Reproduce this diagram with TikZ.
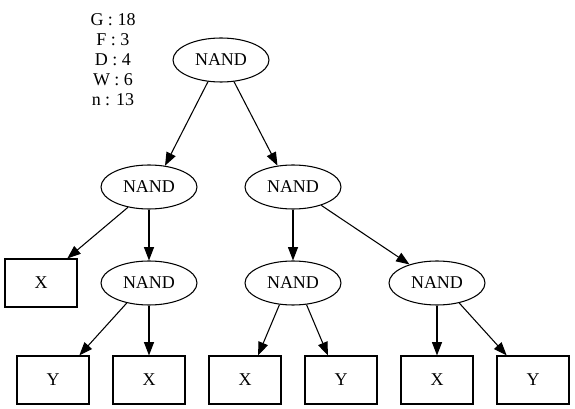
\documentclass[tikz,border=0pt]{standalone}
\usepackage{fontspec}
\setmainfont{Liberation Serif}
\usetikzlibrary{shapes.geometric,arrows.meta}
\begin{document}
\begin{tikzpicture}[x=0.75pt,y=-0.75pt,
  gate/.style={draw,ellipse,line width=0.8pt,minimum width=72pt,minimum height=33pt,inner sep=0pt,font=\fontsize{13.5}{15}\selectfont},
  leaf/.style={draw,rectangle,line width=0.8pt,minimum width=54pt,minimum height=36pt,inner sep=0pt,font=\fontsize{13.5}{15}\selectfont},
  edge/.style={line width=0.8pt,-{Triangle[length=10pt,width=7.5pt]}},
  info/.style={align=center,inner sep=0pt,font=\fontsize{13.5}{15}\selectfont}]
\useasboundingbox (0,0) rectangle (575,409);
\node[info] (stats) at (113,60) {G : 18\\F : 3\\D : 4\\W : 6\\n : 13};
\node[gate] (root) at (221,60) {NAND};
\node[gate] (l) at (149,187) {NAND};
\node[gate] (r) at (293,187) {NAND};
\node[leaf] (x1) at (41,283) {X};
\node[gate] (ln) at (149,283) {NAND};
\node[gate] (rn) at (293,283) {NAND};
\node[gate] (rrn) at (437,283) {NAND};
\node[leaf] (y1) at (53,380) {Y};
\node[leaf] (x2) at (149,380) {X};
\node[leaf] (x3) at (245,380) {X};
\node[leaf] (y2) at (341,380) {Y};
\node[leaf] (x4) at (437,380) {X};
\node[leaf] (y3) at (533,380) {Y};
\draw[edge] (root.239) -- (l.53);
\draw[edge] (root.301) -- (r.126);
\draw[edge] (l.224) -- (x1.43);
\draw[edge] (l.south) -- (ln.north);
\draw[edge] (r.south) -- (rn.north);
\draw[edge] (r.327) -- (rrn.146);
\draw[edge] (ln.222) -- (y1.43);
\draw[edge] (ln.south) -- (x2.north);
\draw[edge] (rn.238) -- (x3.62);
\draw[edge] (rn.302) -- (y2.118);
\draw[edge] (rrn.south) -- (x4.north);
\draw[edge] (rrn.318) -- (y3.137);
\end{tikzpicture}
\end{document}
